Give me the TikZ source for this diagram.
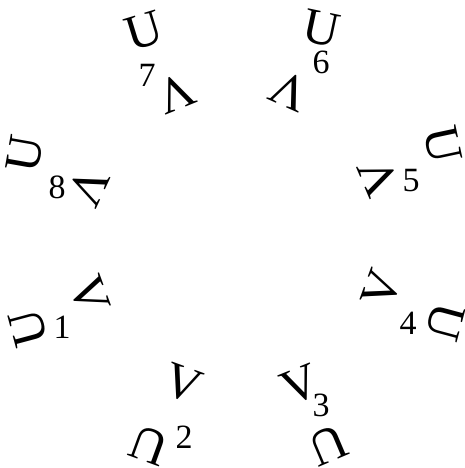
\documentclass[tikz,border=0pt]{standalone}
\usepackage{fontspec}
\setmainfont{Liberation Serif}
\begin{document}
\begin{tikzpicture}[x=1pt,y=1pt,
  letter/.style={inner sep=0pt, font=\fontsize{50}{50}\selectfont},
  num/.style={inner sep=0pt, font=\fontsize{34}{34}\selectfont}]
\fill[white] (0,0) rectangle (465,468);
\useasboundingbox (0,0) rectangle (465,468);
% pair 1
\node[letter, rotate=105] (U1) at (28,140) {U};
\node[num] (n1) at (62,141) {1};
\node[letter, rotate=-70] (V1) at (90,173) {V};
% pair 2
\node[letter, rotate=-20] (V2) at (183,84) {V};
\node[num] (n2) at (184,31) {2};
\node[letter, rotate=160] (U2) at (149,23) {U};
% pair 3
\node[letter, rotate=22] (V3) at (300,83) {V};
\node[num] (n3) at (321,63) {3};
\node[letter, rotate=203] (U3) at (328,23) {U};
% pair 4
\node[letter, rotate=70] (V4) at (382,179) {V};
\node[num] (n4) at (408,145) {4};
\node[letter, rotate=-105] (U4) at (445,146) {U};
% pair 5
\node[letter, rotate=113] (V5) at (379,291) {V};
\node[num] (n5) at (411,287) {5};
\node[letter, rotate=-78] (U5) at (443,323) {U};
% pair 6
\node[letter, rotate=156] (V6) at (289,377) {V};
\node[num] (n6) at (321,406) {6};
\node[letter, rotate=-12] (U6) at (322,440) {U};
% pair 7
\node[letter, rotate=202] (V7) at (176,375) {V};
\node[num] (n7) at (147,393) {7};
\node[letter, rotate=17] (U7) at (144,437) {U};
% pair 8
\node[letter, rotate=-115] (V8) at (88,281) {V};
\node[num] (n8) at (57,281) {8};
\node[letter, rotate=80] (U8) at (25,314) {U};
\end{tikzpicture}
\end{document}
